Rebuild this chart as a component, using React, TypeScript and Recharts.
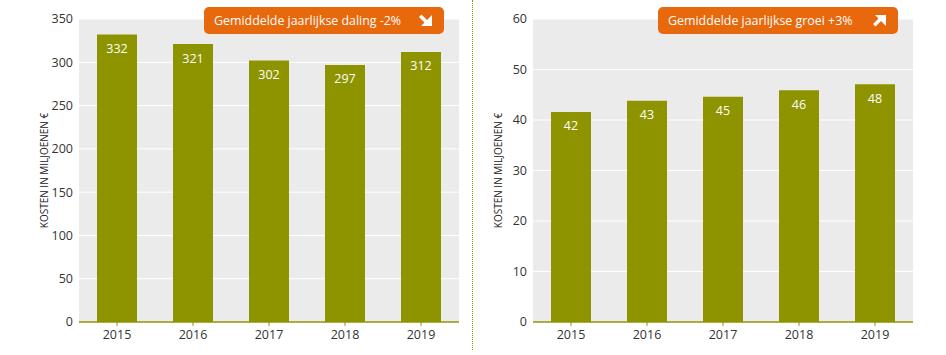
import React from 'react';
import { BarChart, Bar, XAxis, YAxis, CartesianGrid, LabelList } from 'recharts';

const years = ['2015', '2016', '2017', '2018', '2019'];
const costsLeft = [332, 321, 302, 297, 312];
const labelsLeft = ['332', '321', '302', '297', '312'];
const costsRight = [41.6, 43.8, 44.6, 45.9, 47.1];
const labelsRight = ['42', '43', '45', '46', '48'];
const ticksLeft = [0, 50, 100, 150, 200, 250, 300, 350];
const ticksRight = [0, 10, 20, 30, 40, 50, 60];

const OLIVE = '#8e9400';
const ORANGE = '#e8680c';
const FONT = '"Open Sans", "Noto Sans", sans-serif';

const leftData = years.map((y, i) => ({ year: y, value: costsLeft[i], label: labelsLeft[i] }));
const rightData = years.map((y, i) => ({ year: y, value: costsRight[i], label: labelsRight[i] }));

function ValueLabel(props: any) {
  const { x, y, width, value } = props;
  return (
    <text x={x + width / 2} y={y + 14} fill="#fff" fontSize={12.5} fontFamily={FONT}
      textAnchor="middle" dominantBaseline="central">
      {value}
    </text>
  );
}

function YTitle(props: any) {
  const vb = props.viewBox;
  const cx = vb.x + 5;
  const cy = vb.y + vb.height / 2;
  return (
    <text x={cx} y={cy} transform={`rotate(-90 ${cx} ${cy})`} textAnchor="middle"
      dominantBaseline="central" fontSize={10} fontFamily={FONT} fill="#222">
      KOSTEN IN MILJOENEN €
    </text>
  );
}

// chunky arrow icon, down-right or up-right
function Badge({ left, text, up }: { left: number; text: string; up: boolean }) {
  return (
    <div style={{
      position: 'absolute', left, top: 7, width: 240, height: 27, background: ORANGE,
      borderRadius: 5, color: '#fff', fontFamily: FONT, fontSize: 12.4,
      lineHeight: '27px', boxSizing: 'border-box', paddingLeft: 10,
    }}>
      {text}
      <svg width={15} height={14} style={{ position: 'absolute', right: 11, top: 7 }}>
        {up
          ? <polygon points="14,12 14,1 3,1 6.5,4.5 1,10 3.5,12.5 9,7" fill="#fff" />
          : <polygon points="14,1 14,12 3,12 6.5,8.5 1,3 3.5,0.5 9,6" fill="#fff" />}
      </svg>
    </div>
  );
}

function Panel({ data, max, ticks, marginLeft, marginRight, width }: any) {
  return (
    <BarChart width={width} height={355} data={data} barCategoryGap={18}
      margin={{ top: 19, right: marginRight, bottom: 3, left: marginLeft }}>
      <CartesianGrid vertical={false} stroke="#ffffff" fill="#ebebeb" />
      <XAxis dataKey="year" height={30} axisLine={{ stroke: OLIVE, strokeWidth: 1.5 }}
        tickLine={{ stroke: OLIVE }} tickSize={4} tickMargin={4}
        tick={{ fill: '#333', fontSize: 12.5, fontFamily: FONT }} />
      <YAxis width={40} domain={[0, max]} ticks={ticks} axisLine={false} tickLine={false}
        tickSize={0} tickMargin={6} tick={{ fill: '#333', fontSize: 12.5, fontFamily: FONT }}
        label={{ content: YTitle }} />
      <Bar dataKey="value" fill={OLIVE} isAnimationActive={false}>
        <LabelList dataKey="label" content={ValueLabel} />
      </Bar>
    </BarChart>
  );
}

export default function App() {
  return (
    <div style={{ position: 'absolute', left: 0, top: 0, width: 946, height: 355, background: '#fff' }}>
      <div style={{ position: 'absolute', left: 0, top: 0 }}>
        <Panel data={leftData} max={350} ticks={ticksLeft} marginLeft={39} marginRight={11} width={470} />
      </div>
      <div style={{ position: 'absolute', left: 472, top: 0, height: 350, borderLeft: `1px dotted ${OLIVE}` }} />
      <div style={{ position: 'absolute', left: 474, top: 0 }}>
        <Panel data={rightData} max={60} ticks={ticksRight} marginLeft={19} marginRight={33} width={472} />
      </div>
      <Badge left={204} text="Gemiddelde jaarlijkse daling -2%" up={false} />
      <Badge left={658} text="Gemiddelde jaarlijkse groei +3%" up={true} />
    </div>
  );
}
